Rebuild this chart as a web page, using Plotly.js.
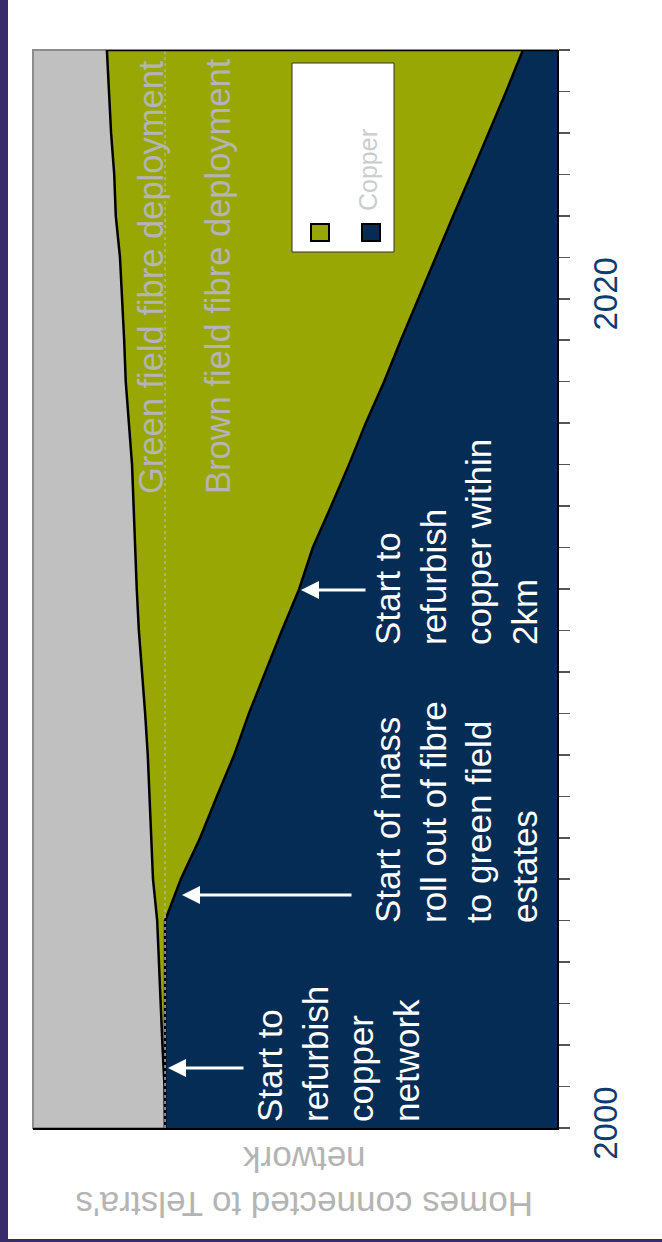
<!DOCTYPE html>
<html>
<head>
<meta charset="utf-8">
<script src="https://cdn.plot.ly/plotly-3.0.1.min.js"></script>
<style>
  body { margin: 0; background: #ffffff; }
  #wrap { position: relative; width: 662px; height: 1242px; overflow: hidden; }
  #plot { position: absolute; left: 0; top: 0; width: 662px; height: 1242px; }
  .lbar { position: absolute; left: 0; top: 0; width: 8px; height: 1242px; background: #382c6c; }
  .bbar { position: absolute; left: 0; bottom: 0; width: 662px; height: 3px; background: #382c6c; }
</style>
</head>
<body>
<div id="wrap">
  <div id="plot"></div>
  <div class="lbar"></div>
  <div class="bbar"></div>
</div>
<script>
// Years (vertical axis after rotation)
const years = [2000,2001,2002,2003,2004,2005,2006,2007,2008,2009,2010,2011,2012,2013,
               2014,2015,2016,2017,2018,2019,2020,2021,2022,2023,2024,2025,2026];
// Total homes connected to Telstra's network (millions, estimated)
const totalHomes = [7.48,7.49,7.53,7.56,7.60,7.63,7.71,7.74,7.77,7.81,7.86,7.92,7.98,8.02,
                    8.05,8.08,8.11,8.17,8.23,8.26,8.30,8.34,8.42,8.45,8.51,8.55,8.59];
// Homes on copper (millions, estimated)
const copperHomes = [7.48,7.48,7.48,7.48,7.48,7.48,7.18,6.81,6.49,6.16,5.88,5.57,5.25,4.92,
                     4.66,4.31,3.97,3.65,3.30,2.98,2.65,2.31,1.98,1.64,1.30,0.97,0.65];
// Labelled years on the axis
const labeledYears = [2000, 2020];
const legendLabels = ['', 'Copper'];

const NAVY = '#042c54', OLIVE = '#99a704', GREY = '#c0c0c0';
const TXTGREY = '#b4b4b4';
const FONT = 'Liberation Sans, Arial, sans-serif';

const traces = [
  { x: copperHomes, y: years, type: 'scatter', mode: 'lines', fill: 'tozerox',
    fillcolor: NAVY, line: { color: '#000', width: 2.5 }, hoverinfo: 'skip', name: 'Copper' },
  { x: totalHomes, y: years, type: 'scatter', mode: 'lines', fill: 'tonextx',
    fillcolor: OLIVE, line: { color: '#000', width: 2.5 }, hoverinfo: 'skip', name: 'Fibre' },
  { x: [copperHomes[0], copperHomes[0]], y: [years[0], years[years.length - 1]],
    type: 'scatter', mode: 'lines', line: { color: '#b0b0b0', width: 1.5, dash: 'dot' },
    hoverinfo: 'skip', name: 'Existing' }
];

// helpers: pixel -> data (plot area x 33..557, y 50..1128)
const L = 33, R = 557, T = 50, B = 1128;
const XMAX = 10;
const vx = px => (R - px) / (R - L) * XMAX;
const vy = py => years[0] + (B - py) / (B - T) * (years[years.length - 1] - years[0]);
const px2 = px => (px - L) / (R - L);
const py2 = py => (B - py) / (B - T);

const whiteFont = { family: FONT, size: 35, color: '#ffffff' };
const annotations = [
  { x: vx(338), y: vy(1124), xref: 'x', yref: 'y', xanchor: 'center', yanchor: 'bottom',
    text: 'Start to<br>refurbish<br>copper<br>network', textangle: -90, align: 'left',
    showarrow: false, font: whiteFont },
  { x: vx(456), y: vy(925), xref: 'x', yref: 'y', xanchor: 'center', yanchor: 'bottom',
    text: 'Start of mass<br>roll out of fibre<br>to green field<br>estates', textangle: -90, align: 'left',
    showarrow: false, font: whiteFont },
  { x: vx(456), y: vy(647), xref: 'x', yref: 'y', xanchor: 'center', yanchor: 'bottom',
    text: 'Start to<br>refurbish<br>copper within<br>2km', textangle: -90, align: 'left',
    showarrow: false, font: whiteFont },
  { x: vx(151), y: vy(496), xref: 'x', yref: 'y', xanchor: 'center', yanchor: 'bottom',
    text: 'Green field fibre deployment', textangle: -90, showarrow: false,
    font: { family: FONT, size: 34.5, color: TXTGREY } },
  { x: vx(218), y: vy(496), xref: 'x', yref: 'y', xanchor: 'center', yanchor: 'bottom',
    text: 'Brown field fibre deployment', textangle: -90, showarrow: false,
    font: { family: FONT, size: 34.5, color: TXTGREY } },
  // arrows
  { x: vx(168), y: vy(1068), xref: 'x', yref: 'y', ax: 77, ay: 0, text: '', showarrow: true,
    arrowhead: 2, arrowsize: 1.2, arrowwidth: 3, arrowcolor: '#ffffff', standoff: 0 },
  { x: vx(182), y: vy(895), xref: 'x', yref: 'y', ax: 171, ay: 0, text: '', showarrow: true,
    arrowhead: 2, arrowsize: 1.2, arrowwidth: 3, arrowcolor: '#ffffff', standoff: 0 },
  { x: vx(301), y: vy(590), xref: 'x', yref: 'y', ax: 66, ay: 0, text: '', showarrow: true,
    arrowhead: 2, arrowsize: 1.2, arrowwidth: 3, arrowcolor: '#ffffff', standoff: 0 },
  // axis title (upside down)
  { x: px2(305), y: py2(1182), xref: 'paper', yref: 'paper', xanchor: 'center', yanchor: 'middle',
    text: "Homes connected to Telstra's<br>network", textangle: 180, showarrow: false,
    font: { family: FONT, size: 35, color: TXTGREY } },
  // legend label
  { x: px2(368), y: py2(213), xref: 'paper', yref: 'paper', xanchor: 'center', yanchor: 'bottom',
    text: legendLabels[1], textangle: -90, showarrow: false,
    font: { family: FONT, size: 25, color: '#cccccc' } }
];

const shapes = [
  // plot border (grey, left/top)
  { type: 'rect', xref: 'paper', yref: 'paper', x0: 0, x1: 1, y0: 0, y1: 1,
    line: { color: '#8c8c8c', width: 2 }, layer: 'below' },
  // top edge of the stacked areas
  { type: 'line', xref: 'x', yref: 'y', x0: totalHomes[totalHomes.length - 1], x1: 0,
    y0: years[years.length - 1], y1: years[years.length - 1], line: { color: '#000', width: 2.5 } },
  // legend box
  { type: 'rect', xref: 'paper', yref: 'paper', x0: px2(292), x1: px2(394), y0: py2(252), y1: py2(63),
    fillcolor: '#ffffff', line: { color: '#333333', width: 1 } },
  { type: 'rect', xref: 'paper', yref: 'paper', x0: px2(311), x1: px2(329), y0: py2(241), y1: py2(224),
    fillcolor: OLIVE, line: { color: '#000', width: 2 } },
  { type: 'rect', xref: 'paper', yref: 'paper', x0: px2(362), x1: px2(380), y0: py2(241), y1: py2(224),
    fillcolor: NAVY, line: { color: '#000', width: 2 } }
];

const layout = {
  width: 662, height: 1242,
  margin: { l: L, r: 662 - R, t: T, b: 1242 - B, pad: 0 },
  paper_bgcolor: 'rgba(0,0,0,0)', plot_bgcolor: GREY,
  showlegend: false,
  xaxis: { range: [XMAX, 0], showgrid: false, zeroline: false, showticklabels: false,
           ticks: '', showline: true, linecolor: '#000', linewidth: 2, fixedrange: true },
  yaxis: { range: [years[0], years[years.length - 1]], side: 'right', showgrid: false, zeroline: false,
           tickvals: years, ticktext: years.map(y => labeledYears.includes(y) ? String(y) : ''),
           ticks: 'outside', ticklen: 11, tickwidth: 1.5, tickcolor: '#555', ticklabelstandoff: 7,
           showline: true, linecolor: '#000', linewidth: 2, tickangle: -90,
           tickfont: { family: 'Liberation Sans Narrow, Liberation Sans, Arial, sans-serif', size: 33, color: '#0e3b70' },
           fixedrange: true },
  annotations: annotations,
  shapes: shapes
};

Plotly.newPlot('plot', traces, layout, { displayModeBar: false, staticPlot: true });
</script>
</body>
</html>
